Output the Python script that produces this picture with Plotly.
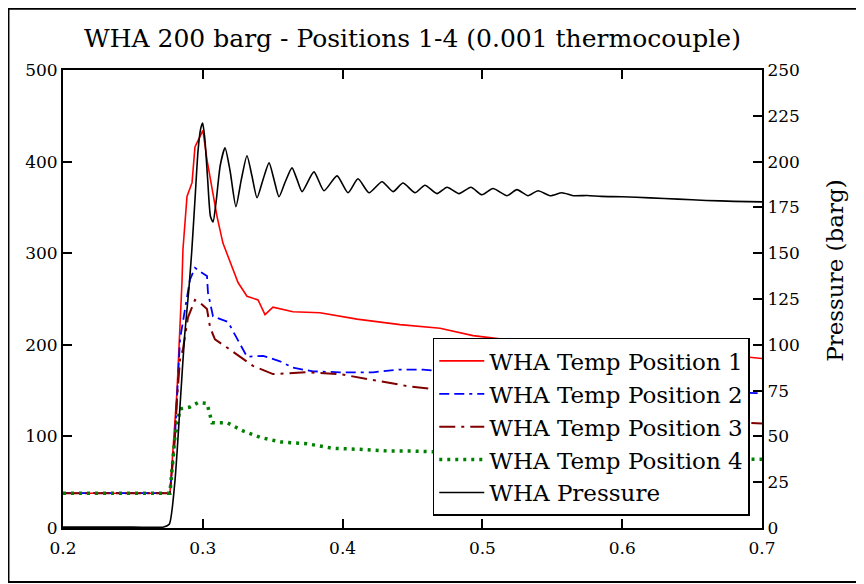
import plotly.graph_objects as go

# time (s) and temperature (deg C) for each thermocouple position, pressure (barg)
t_pos1 = [0.200, 0.2765, 0.2787, 0.2815, 0.2851, 0.2858, 0.2887, 0.2923, 0.2944, 0.3001,
          0.3030, 0.3102, 0.3144, 0.3209, 0.3252, 0.3316, 0.3395, 0.3445, 0.3502, 0.3645,
          0.3838, 0.4103, 0.4411, 0.4697, 0.4933, 0.52, 0.56, 0.60, 0.64, 0.68, 0.70]
temp_pos1 = [38, 38, 86, 148, 268, 304, 362, 377, 416, 434,
             402, 340, 311, 285, 268, 253, 249, 233, 241, 236,
             235, 228, 222, 218, 210, 205, 200, 196, 192, 188, 185]

t_pos2 = [0.200, 0.2765, 0.2801, 0.2815, 0.2837, 0.2908, 0.2944, 0.2980, 0.3030, 0.3037,
          0.3073, 0.3180, 0.3245, 0.3316, 0.3431, 0.3552, 0.3645, 0.3788, 0.3981, 0.4217,
          0.4411, 0.4575, 0.49, 0.53, 0.57, 0.62, 0.66, 0.70]
temp_pos2 = [38, 38, 100, 148, 206, 271, 284, 280, 275, 257,
             231, 225, 206, 187, 188, 182, 175, 171, 170, 170,
             173, 173, 168, 162, 157, 152, 149, 147]

t_pos3 = [0.200, 0.2765, 0.2801, 0.2815, 0.2837, 0.2858, 0.2894, 0.2944, 0.2980, 0.3030,
          0.3052, 0.3087, 0.3173, 0.3266, 0.3359, 0.3502, 0.3745, 0.3981, 0.4217, 0.4461,
          0.4625, 0.50, 0.55, 0.60, 0.65, 0.70]
temp_pos3 = [38, 38, 100, 140, 184, 195, 230, 249, 246, 239,
             219, 206, 197, 187, 177, 168, 170, 168, 162, 155,
             152, 145, 135, 127, 119, 114]

t_pos4 = [0.200, 0.2765, 0.2801, 0.2837, 0.2908, 0.2966, 0.3030, 0.3066, 0.3173, 0.3288,
          0.3409, 0.3552, 0.3745, 0.3931, 0.4103, 0.4339, 0.4504, 0.4675, 0.52, 0.58,
          0.64, 0.70]
temp_pos4 = [38, 38, 100, 130, 132, 137, 136, 115, 115, 106,
             99, 94, 92, 87, 86, 84, 84, 83, 80, 78,
             76, 75]

t_press = [0.200, 0.250, 0.272, 0.276, 0.280, 0.284, 0.287, 0.290, 0.292, 0.2944,
           0.2966, 0.2985, 0.2999, 0.3015, 0.3035, 0.3055, 0.3073, 0.3095, 0.3125, 0.3159,
           0.3195, 0.3237, 0.3275, 0.3316, 0.3352, 0.3388, 0.3430, 0.3474, 0.3510, 0.3545,
           0.3590, 0.3638, 0.3675, 0.3710, 0.3795, 0.3867, 0.3960, 0.4039, 0.4110, 0.4189,
           0.4282, 0.4361, 0.4432, 0.4518, 0.4589, 0.4675, 0.4747, 0.4833, 0.4918, 0.4997,
           0.5076, 0.5176, 0.5247, 0.5326, 0.5398, 0.5484, 0.5569, 0.565, 0.575, 0.585,
           0.600, 0.620, 0.640, 0.660, 0.680, 0.700]
pressure = [0.5, 0.5, 0.5, 2, 25, 70, 105, 130, 150, 179,
            206, 218, 221, 212, 190, 170, 167, 178, 198, 207.5,
            195, 175.4, 190, 203.2, 192, 180.3, 190, 199.3, 190, 180.8,
            189, 196.6, 190, 183.6, 194.4, 184.1, 192.2, 183.0, 190.6, 183.0,
            189.0, 183.6, 188.3, 183.0, 187.1, 182.5, 186.0, 182.5, 186.0, 181.9,
            185.3, 181.4, 184.7, 181.4, 184.1, 181.4, 183.0, 181.4, 181.5, 181.0,
            180.8, 180.2, 179.5, 178.8, 178.3, 178.0]

x_ticks = [0.2, 0.3, 0.4, 0.5, 0.6, 0.7]
x_tick_labels = ["0.2", "0.3", "0.4", "0.5", "0.6", "0.7"]

# DejaVu Serif is the only serif face the renderer actually picks up
FONT = "DejaVu Serif"

fig = go.Figure()

fig.add_trace(go.Scatter(
    x=t_pos1, y=temp_pos1, mode="lines", name="WHA Temp Position 1",
    line=dict(color="#ff0000", width=1.6)
))
fig.add_trace(go.Scatter(
    x=t_pos2, y=temp_pos2, mode="lines", name="WHA Temp Position 2",
    line=dict(color="#0000ff", width=1.8, dash="10px,5px,10px,5px,3px,5px")
))
fig.add_trace(go.Scatter(
    x=t_pos3, y=temp_pos3, mode="lines", name="WHA Temp Position 3",
    line=dict(color="#800000", width=2, dash="16px,6px,3px,6px")
))
fig.add_trace(go.Scatter(
    x=t_pos4, y=temp_pos4, mode="lines", name="WHA Temp Position 4",
    line=dict(color="#008000", width=3.5, dash="3px,5px")
))
fig.add_trace(go.Scatter(
    x=t_press, y=pressure, mode="lines", name="WHA Pressure", yaxis="y2",
    line=dict(color="#000000", width=1.6, shape="spline", smoothing=0.6)
))

axis_common = dict(
    showline=True, linecolor="black", linewidth=2,
    ticks="inside", ticklen=9, tickwidth=1.5, tickcolor="black",
    showgrid=False, zeroline=False,
    tickfont=dict(family=FONT, size=17, color="black")
)

# page body has an 8px margin, so the figure is 8px smaller each way
fig.update_layout(
    width=856, height=576,
    margin=dict(l=55, r=102, t=62, b=56),
    paper_bgcolor="white",
    plot_bgcolor="white",
    font=dict(family=FONT, color="black"),
    title=dict(
        text="WHA 200 barg - Positions 1-4 (0.001 thermocouple)",
        x=0.5, xref="paper", xanchor="center",
        y=0.947, yanchor="middle",
        font=dict(family=FONT, size=25, color="black")
    ),
    xaxis=dict(
        range=[0.2, 0.7], tickvals=x_ticks, ticktext=x_tick_labels,
        mirror="ticks", ticklabelstandoff=4, **axis_common
    ),
    yaxis=dict(range=[0, 500], dtick=100, **axis_common),
    yaxis2=dict(
        range=[0, 250], dtick=25, overlaying="y", side="right",
        **axis_common
    ),
    showlegend=True,
    legend=dict(
        x=0.529, y=0.415, xanchor="left", yanchor="top",
        bgcolor="white", bordercolor="black", borderwidth=1.5,
        font=dict(family=FONT, size=23, color="black"),
        itemwidth=45, tracegroupgap=0
    ),
    annotations=[dict(
        text="Pressure (barg)", xref="paper", yref="paper",
        x=1.104, y=0.563, textangle=-90, showarrow=False,
        xanchor="center", yanchor="middle",
        font=dict(family=FONT, size=23, color="black")
    )],
    shapes=[dict(
        type="rect", xref="paper", yref="paper",
        x0=-0.078, x1=1.143, y0=-0.118, y1=1.134,
        line=dict(color="black", width=2)
    )]
)

fig.write_html("out.html")
